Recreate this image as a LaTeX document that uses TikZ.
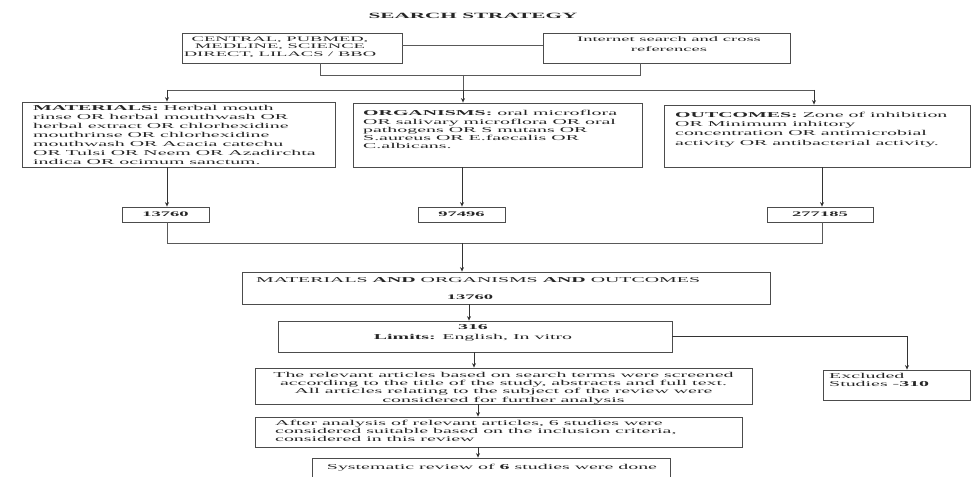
\documentclass[tikz,border=0pt]{standalone}
\usepackage{fontspec}
\setmainfont{Liberation Serif}[FakeStretch=2.65]
\usetikzlibrary{arrows.meta,calc,fit}
\begin{document}
\begin{tikzpicture}[x=1pt,y=-1pt,
  box/.style={draw=black!70, line width=0.8pt, inner sep=0pt, rectangle},
  txt/.style={inner sep=0pt, font=\fontsize{7.5}{9}\selectfont, text=black!85},
  arr/.style={draw=black!80, line width=0.8pt, -{Stealth[length=4.5pt,width=4pt]}},
  ln/.style={draw=black!65, line width=0.8pt}]
\fill[white] (0,0) rectangle (973,476);
\useasboundingbox (0,0) rectangle (973,476);

% title
\node[inner sep=0pt, font=\fontsize{8}{9}\bfseries\selectfont, text=black!85] (title) at (473,16) {SEARCH STRATEGY};

% sources
\node[box, fit={(182,33)(402,63)}] (srcA) {};
\node[txt, align=center, font=\fontsize{7}{7.6}\selectfont] (srcAt) at (280,47) {CENTRAL, PUBMED,\\ MEDLINE, SCIENCE\\ DIRECT, LILACS / BBO};
\node[box, fit={(543,33)(790,63)}] (srcB) {};
\node[txt, align=center, font=\fontsize{7}{10}\selectfont] (srcBt) at (669,44.5) {Internet search and cross\\ references};
\draw[ln] ([yshift=3pt]srcA.east) -- ([yshift=3pt]srcB.west);

\coordinate (jA) at (320,75);
\coordinate (jB) at (640,75);
\coordinate (jC) at (463,75);
\coordinate (sp) at (463,90);
\coordinate (spL) at (167,90);
\coordinate (spR) at (814,90);
\draw[ln] (srcA.south -| jA) -- (jA) -- (jB) -- (srcB.south -| jB);
\draw[ln] (jC) -- (sp);
\draw[ln] (spL) -- (spR);

% search term boxes
\node[box, fit={(22,102)(335,167)}] (mat) {};
\node[txt, anchor=north west, align=left] (matt) at (33,105) {\textbf{MATERIALS:} Herbal mouth\\ rinse OR herbal mouthwash OR\\ herbal extract OR chlorhexidine\\ mouthrinse OR chlorhexidine\\ mouthwash OR Acacia catechu\\ OR Tulsi OR Neem OR Azadirchta\\ indica OR ocimum sanctum.};

\node[box, fit={(353,103)(642,167)}] (org) {};
\node[txt, anchor=north west, align=left, font=\fontsize{7.5}{8.2}\selectfont] (orgt) at (363,110.5) {\textbf{ORGANISMS:} oral microflora\\ OR salivary microflora OR oral\\ pathogens OR S mutans OR\\ S.aureus OR E.faecalis OR\\ C.albicans.};

\node[box, fit={(664,105)(970,167)}] (out) {};
\node[txt, anchor=north west, align=left, font=\fontsize{7.5}{9.2}\selectfont] (outt) at (675,112) {\textbf{OUTCOMES:} Zone of inhibition\\ OR Minimum inhitory\\ concentration OR antimicrobial\\ activity OR antibacterial activity.};

\draw[arr] (spL) -- (spL |- mat.north);
\draw[arr] (sp) -- (sp |- org.north);
\draw[arr] (spR) -- (spR |- out.north);

% number boxes
\node[box, minimum width=87pt, minimum height=15pt, font=\fontsize{7}{8}\bfseries\selectfont, text=black!85] (n1) at (165.5,214.5) {13760};
\node[box, minimum width=87pt, minimum height=15pt, font=\fontsize{7}{8}\bfseries\selectfont, text=black!85] (n2) at (461.5,214.5) {97496};
\node[box, minimum width=106pt, minimum height=15pt, font=\fontsize{7}{8}\bfseries\selectfont, text=black!85] (n3) at (820,214.5) {277185};

\coordinate (xa) at (167,0);
\coordinate (xb) at (462,0);
\coordinate (xc) at (822,0);
\draw[arr] (mat.south -| xa) -- (xa |- n1.north);
\draw[arr] (org.south -| xb) -- (xb |- n2.north);
\draw[arr] (out.south -| xc) -- (xc |- n3.north);

\coordinate (jn1) at (167,243);
\coordinate (jn2) at (462,243);
\coordinate (jn3) at (822,243);
\draw[ln] (n1.south -| jn1) -- (jn1) -- (jn3) -- (n3.south -| jn3);

% combined
\node[box, fit={(242,272)(770,304)}] (comb) {};
\node[txt, anchor=west] (combt) at (256,280.5) {MATERIALS \textbf{AND} ORGANISMS \textbf{AND} OUTCOMES};
\node[txt, font=\fontsize{7}{8}\bfseries\selectfont] (combn) at (470,297) {13760};
\draw[arr] (jn2) -- (jn2 |- comb.north);

% limits
\node[box, fit={(278,321)(672,352)}] (lim) {};
\node[txt, align=center, font=\fontsize{7.5}{10}\selectfont] (limt) at (473,333) {\textbf{316}\\ \textbf{Limits:} English, In vitro};
\coordinate (x469) at (469,0);
\draw[arr] (comb.south -| x469) -- (x469 |- lim.north);

% excluded
\node[box, fit={(823,370)(970,400)}] (exc) {};
\node[txt, anchor=north west, align=left, font=\fontsize{7.5}{8.5}\selectfont] (exct) at (829,373) {Excluded\\ Studies -\textbf{310}};
\coordinate (ex) at (907,0);
\draw[arr] (lim.east) -- (lim.east -| ex) -- (ex |- exc.north);

% screening
\node[box, fit={(255,368)(752,404)}] (scr) {};
\node[txt, align=center, font=\fontsize{7.5}{8.4}\selectfont] (scrt) at (503.5,388) {The relevant articles based on search terms were screened\\ according to the title of the study, abstracts and full text.\\ All articles relating to the subject of the review were\\ considered for further analysis};
\coordinate (x474) at (474,0);
\draw[arr] (lim.south -| x474) -- (x474 |- scr.north);

% after analysis
\node[box, fit={(255,417)(742,447)}] (aft) {};
\node[txt, anchor=north west, align=left, font=\fontsize{7.5}{8}\selectfont] (aftt) at (275,420) {After analysis of relevant articles, 6 studies were\\ considered suitable based on the inclusion criteria,\\ considered in this review};
\coordinate (x478) at (478,0);
\draw[arr] (scr.south -| x478) -- (x478 |- aft.north);

% systematic
\node[box, fit={(312,458)(670,478)}] (sys) {};
\node[txt] (syst) at (492,467.5) {Systematic review of \textbf{6} studies were done};
\draw[arr] (aft.south -| x478) -- (x478 |- sys.north);
\end{tikzpicture}
\end{document}
